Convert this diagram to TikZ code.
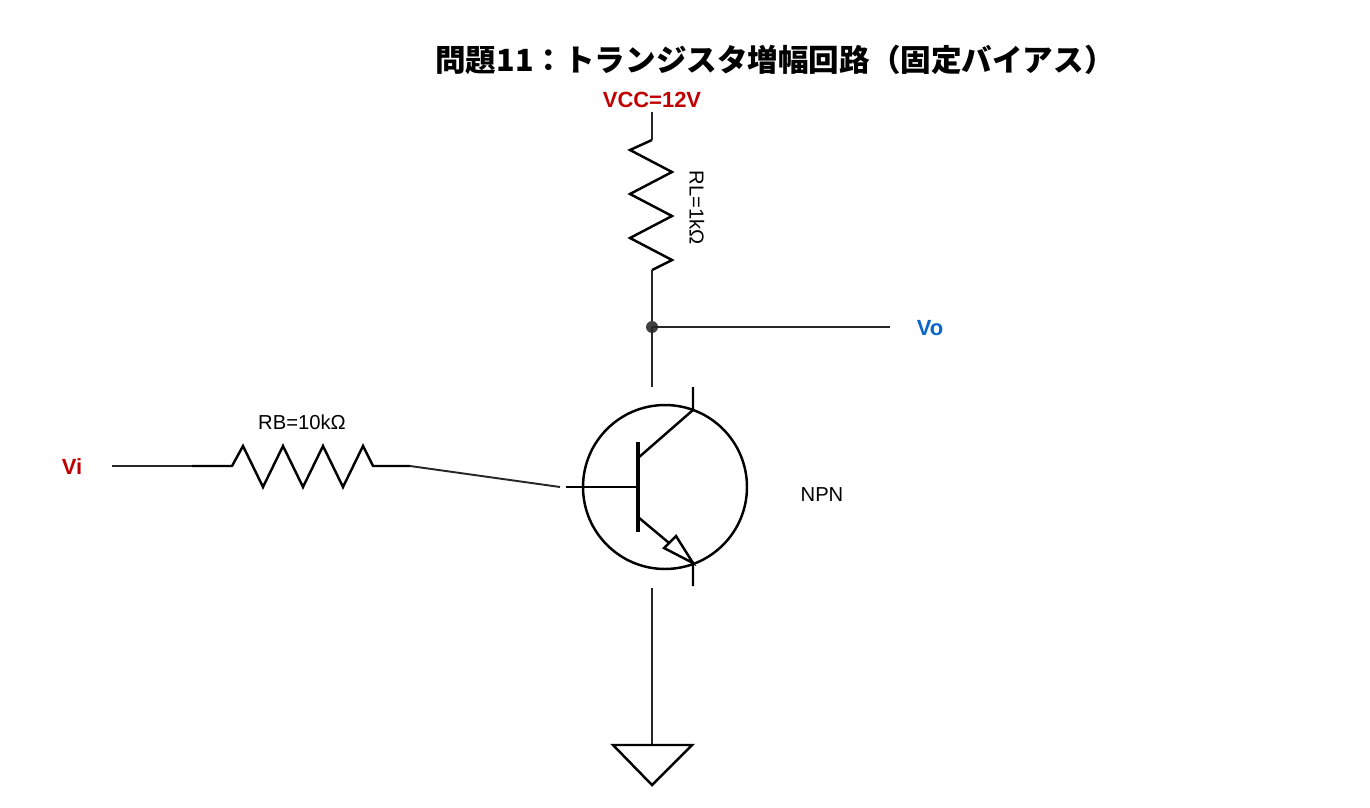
\documentclass[tikz,border=0pt]{standalone}
\usepackage{fontspec}
\setmainfont{Liberation Sans}
\newfontfamily\cjk{Noto Sans CJK JP}
\usetikzlibrary{positioning}
\definecolor{LabelRed}{HTML}{C00000}
\definecolor{LabelBlue}{HTML}{0B66C8}

\begin{document}
\begin{tikzpicture}[x=0.02cm, y=-0.02cm,
                    wire/.style={draw=black!85, line width=1.1pt},
                    part/.style={draw=black, line width=1.4pt, line join=miter},
                    lbl/.style={inner sep=0pt, font=\fontsize{11.5}{13}\selectfont},
                    pin/.style={inner sep=0pt, font=\fontsize{12.5}{15}\selectfont\bfseries}]
  \useasboundingbox (0,0) rectangle (1370,808);
  \node[inner sep=0pt, font=\cjk\fontsize{17.4}{20}\selectfont\bfseries] (title) at (775,60) {問題11：トランジスタ増幅回路（固定バイアス）};
  % supply and load resistor
  \node[pin, text=LabelRed] (vcc) at (652,100) {VCC=12V};
  \coordinate (rltop) at (652,140);
  \coordinate (rlbot) at (652,270);
  \coordinate (out) at (652,327);
  \draw[wire] (652,112) -- (rltop);
  \draw[part] (rltop) -- (630,150) -- (672,172) -- (630,194) -- (672,216) -- (630,238) -- (672,260) -- (rlbot);
  \draw[wire] (rlbot) -- (out);
  \node[lbl, rotate=-90] (rl) at (697,208) {RL=1kΩ};
  \fill[black!75] (out) circle (6);
  \coordinate (voend) at (890,327);
  \draw[wire] (out) -- (voend);
  \node[pin, text=LabelBlue] (vo) at (930,328) {Vo};
  \coordinate (ctop) at (652,387);
  \draw[wire] (out) -- (ctop);
  % input side
  \node[pin, text=LabelRed] (vi) at (72,467) {Vi};
  \coordinate (rbl) at (192,466);
  \coordinate (rbr) at (410,466);
  \draw[wire] (112,466) -- (rbl);
  \draw[part] (rbl) -- (232,466) -- (243,446) -- (263,487) -- (283,446) -- (303,487) -- (323,446) -- (343,487) -- (363,446) -- (373,466) -- (rbr);
  \node[lbl] (rb) at (302,422) {RB=10kΩ};
  \coordinate (bin) at (560,487);
  \draw[wire] (rbr) -- (bin);
  % transistor
  \node[draw, circle, line width=1.4pt, minimum size=3.28cm, inner sep=0pt] (q1) at (665,487) {};
  \draw[part] (566,487) -- (638,487);
  \draw[part, line width=2pt] (638,442) -- (638,532);
  \draw[part] (638,458) -- (693,410) -- (693,387);
  \draw[part] (638,517) -- (693,563) -- (693,586);
  \draw[part, fill=white] (693,563) -- (664,548) -- (676,536) -- cycle;
  \node[lbl] (npn) at (822,495) {NPN};
  % ground
  \coordinate (gtop) at (652,745);
  \draw[wire] (652,588) -- (gtop);
  \draw[part] (613,745) -- (692,745) -- (652,785) -- cycle;
\end{tikzpicture}
\end{document}
